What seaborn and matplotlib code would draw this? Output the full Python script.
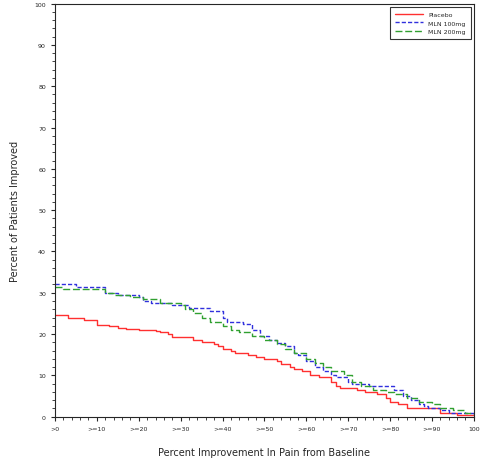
import numpy as np
import pandas as pd
import matplotlib
matplotlib.use("Agg")
import matplotlib.pyplot as plt
import seaborn as sns

sns.set_style("ticks")
plt.rcParams['font.family'] = ['DejaVu Sans']

placebo_x = [0, 3, 7, 10, 13, 15, 17, 20, 24, 25, 27, 28, 33, 35, 38, 39, 40, 42, 43, 46, 48, 50,
             53, 54, 56, 57, 59, 61, 63, 66, 67, 68, 72, 74, 77, 79, 80, 82, 84, 88, 92, 94, 96, 100]
placebo_y = [24.5, 24, 23.5, 22.3, 22, 21.5, 21.3, 21, 20.8, 20.5, 20, 19.2, 18.5, 18, 17.5, 17,
             16.5, 16, 15.5, 15, 14.5, 14, 13.5, 12.8, 12, 11.5, 11, 10, 9.5, 8.5, 7.5, 7, 6.5, 6,
             5.5, 4.5, 3.5, 3, 2.2, 2, 1, 0.8, 0.3, 0.3]
mln100_x = [0, 5, 10, 12, 15, 20, 21, 23, 28, 32, 37, 40, 41, 45, 47, 49, 51, 53, 55, 57, 58, 60,
            62, 64, 66, 67, 70, 71, 75, 81, 83, 85, 87, 88, 89, 92, 94, 100]
mln100_y = [32, 31.5, 31.3, 30, 29.5, 29, 28, 27.5, 27, 26.3, 25.5, 24, 22.8, 22.5, 21, 19.5, 18.5,
            17.8, 17.2, 15.5, 15, 13.5, 12, 11, 10, 9.5, 8.5, 8, 7.5, 6.5, 5, 4, 3, 2.5, 2, 1.5, 1, 0.5]
mln200_x = [0, 2, 10, 12, 14, 18, 21, 25, 30, 31, 33, 35, 37, 40, 42, 44, 47, 50, 53, 55, 57, 60,
            62, 64, 66, 69, 71, 73, 76, 79, 81, 84, 87, 90, 92, 95, 98, 100]
mln200_y = [31.5, 31, 30.8, 30, 29.5, 29, 28.5, 27.5, 27, 26, 25, 24, 23, 22, 21, 20.5, 19.5, 18.5,
            17.5, 16.5, 15.5, 14, 13, 12, 11, 10, 8.5, 7.5, 6.5, 6, 5.5, 4.5, 3.5, 3, 2, 1.5, 1, 0.5]

xtick_labels = [">0", ">=10", ">=20", ">=30", ">=40", ">=50", ">=60", ">=70", ">=80", ">=90", "100"]

fig, ax = plt.subplots(figsize=(4.91, 4.60), dpi=100)
fig.subplots_adjust(left=0.112, right=0.965, top=0.99, bottom=0.092)

series = [("Placebo", placebo_x, placebo_y, "#ff3030", "-"),
          ("MLN 100mg", mln100_x, mln100_y, "#3030dd", (0, (3, 1.5))),
          ("MLN 200mg", mln200_x, mln200_y, "#30a030", (0, (5, 2)))]
for name, xs, ys, c, ls in series:
    sns.lineplot(x=xs, y=ys, ax=ax, color=c, linestyle=ls, drawstyle="steps-post",
                 linewidth=1.0, label=name)

ax.set_xlim(0, 100)
ax.set_ylim(0, 100)
ax.set_xticks(np.arange(0, 101, 10))
ax.set_xticklabels(xtick_labels, fontsize=4.5)
ax.set_xticks(np.arange(0, 101, 2), minor=True)
ax.set_yticks(np.arange(0, 101, 10))
ax.set_yticks(np.arange(0, 101, 2), minor=True)
ax.tick_params(axis="y", labelsize=4.5)
ax.tick_params(which="major", length=3, width=0.8)
ax.tick_params(which="minor", length=2, width=0.6)
for s in ax.spines.values():
    s.set_linewidth(0.8)
ax.set_xlabel("Percent Improvement In Pain from Baseline", fontsize=7, labelpad=12)
ax.set_ylabel("Percent of Patients Improved", fontsize=7, labelpad=10)
leg = ax.legend(loc="upper right", fontsize=4.5, frameon=True, fancybox=False,
                edgecolor="black", handlelength=4.5, borderpad=0.8)
leg.get_frame().set_linewidth(0.8)

fig.savefig("out.png")
